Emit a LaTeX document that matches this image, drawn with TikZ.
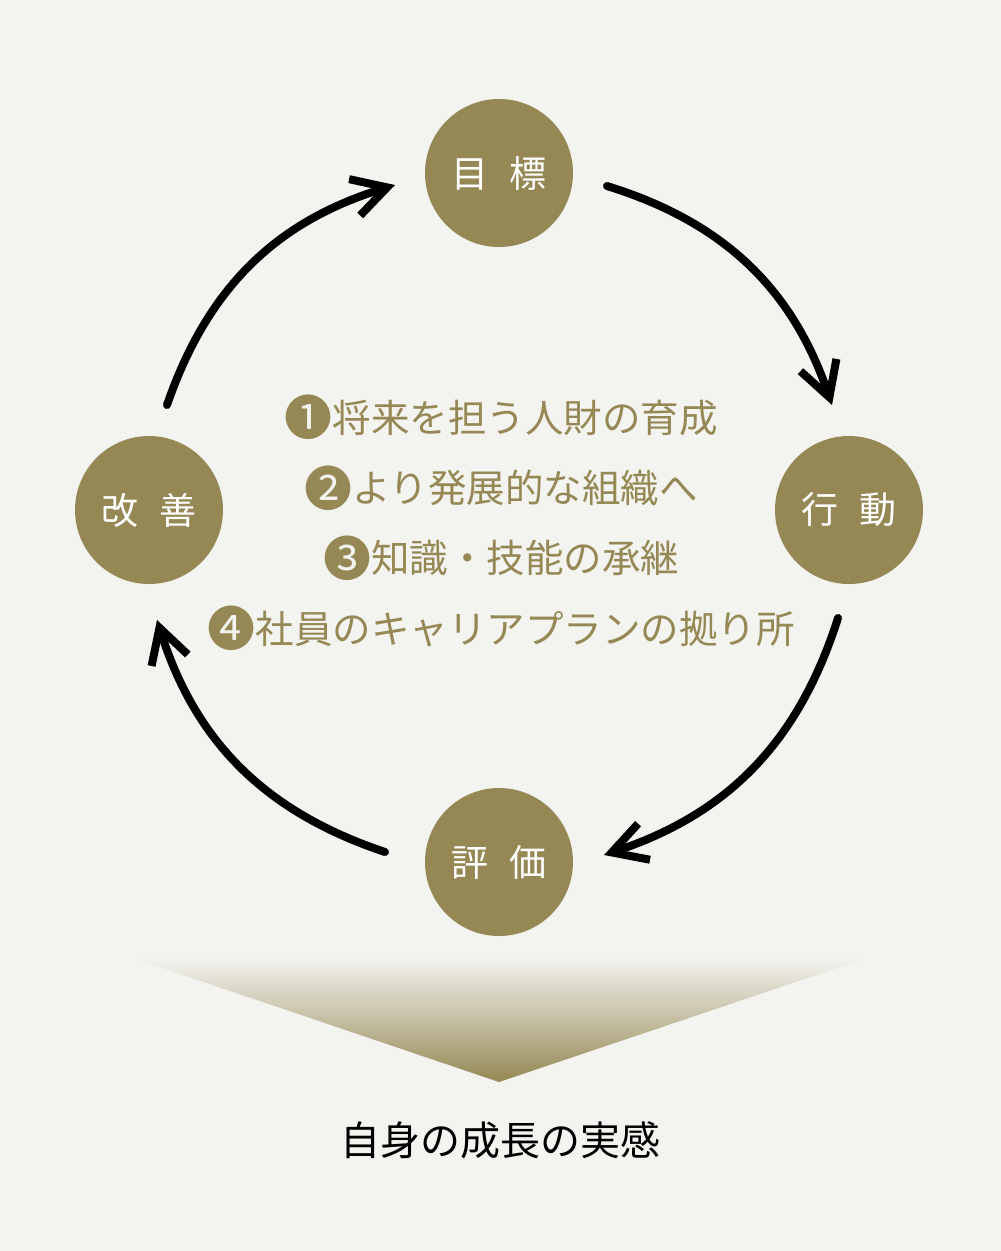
\documentclass[tikz,border=0pt]{standalone}
\usepackage{fontspec}
\setmainfont{Noto Sans CJK JP}
\usepackage{tikz}
\usetikzlibrary{arrows.meta,positioning}
\definecolor{cycgold}{RGB}{149,136,84}
\definecolor{paper}{RGB}{243,243,239}
\newcommand{\kgap}{\hspace{0.57em}}
\newcommand{\cnum}[1]{\raisebox{-3.6pt}{\fontsize{48}{48}\selectfont #1}}

\begin{document}
\begin{tikzpicture}[
  x=1pt, y=1pt,
  font=\fontsize{38.5}{46}\selectfont,
  stage/.style={circle, fill=cycgold, text=white, minimum size=148pt, inner sep=0pt, font=\fontsize{37}{44}\selectfont},
  goal/.style={text=cycgold, inner sep=0pt, text height=33pt, text depth=7pt},
  arr/.style={-{Straight Barb[length=34pt, width=38pt, line join=miter]}, line width=8pt, line cap=round, black}
]
\useasboundingbox (0,0) rectangle (1001,-1251);
\fill[paper] (0,0) rectangle (1001,-1251);
\node[stage] (mokuhyo) at (499,-173) {目\kgap 標};
\node[stage] (kodo) at (849,-510) {行\kgap 動};
\node[stage] (hyoka) at (499,-862) {評\kgap 価};
\node[stage] (kaizen) at (149,-510) {改\kgap 善};
\node[goal] (g1) at (501,-419) {\cnum{❶}将来を担う人財の育成};
\node[goal, below=30pt of g1] (g2) {\cnum{❷}より発展的な組織へ};
\node[goal, below=30pt of g2] (g3) {\cnum{❸}知識・技能の承継};
\node[goal, below=30pt of g3] (g4) {\cnum{❹}社員のキャリアプランの拠り所};
\coordinate (s1) at (607,-186);
\coordinate (e1) at (832,-405);
\coordinate (s2) at (838,-618);
\coordinate (e2) at (604,-855);
\coordinate (s3) at (385,-852);
\coordinate (e3) at (157,-620);
\coordinate (s4) at (167,-405);
\coordinate (e4) at (395,-185);
\draw[arr] (s1) to[bend left=27] (e1);
\draw[arr] (s2) to[bend left=27] (e2);
\draw[arr] (s3) to[bend left=27] (e3);
\draw[arr] (s4) to[bend left=27] (e4);
\coordinate (tl) at (133,-958);
\coordinate (tr) at (867,-958);
\coordinate (tip) at (499,-1082);
\shade[top color=paper, bottom color=cycgold] (tl) -- (tr) -- (tip) -- cycle;
\node[font=\fontsize{40}{48}\selectfont] (jikkan) at (500,-1140) {自身の成長の実感};
\end{tikzpicture}
\end{document}
